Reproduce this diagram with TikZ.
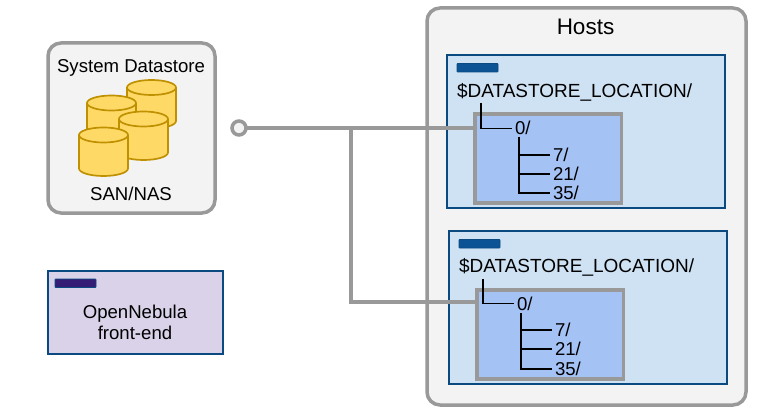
\documentclass[tikz,border=0pt]{standalone}
\usepackage{fontspec}
\setmainfont{Liberation Sans}
\definecolor{graybd}{HTML}{999999}
\definecolor{panel}{HTML}{F3F3F3}
\definecolor{hostfill}{HTML}{CFE2F3}
\definecolor{hostbd}{HTML}{0B4A80}
\definecolor{innerfill}{HTML}{A4C2F4}
\definecolor{fefill}{HTML}{D9D2E9}
\definecolor{febar}{HTML}{351C75}
\definecolor{hostbar}{HTML}{0B5394}
\definecolor{dbfill}{HTML}{FFD966}
\definecolor{dbbd}{HTML}{BF9000}
\tikzset{
  box/.style={inner sep=0pt,outer sep=0pt,anchor=north west},
  panelbox/.style={box,draw=graybd,fill=panel,line width=3.5pt,rounded corners=13pt},
  hostbox/.style={box,draw=hostbd,fill=hostfill,line width=1.5pt},
  febox/.style={box,draw=hostbd,fill=fefill,line width=1.5pt},
  innerbox/.style={box,draw=graybd,fill=innerfill,line width=3.5pt},
  hostbarbox/.style={box,draw=hostbd,fill=hostbar,line width=.8pt,rounded corners=.8pt},
  febarbox/.style={box,draw=hostbd,fill=febar,line width=.8pt,rounded corners=.8pt},
  txt/.style={inner sep=0pt,outer sep=0pt,anchor=base west,font=\fontsize{18.6}{22}\selectfont},
  loctxt/.style={txt,font=\fontsize{19}{22}\selectfont},
  ctxt/.style={txt,anchor=base},
  wire/.style={draw=graybd,line width=3.5pt},
  tree/.style={draw=black,line width=1.6pt},
  hub/.style={circle,draw=graybd,fill=panel,line width=3.5pt,minimum size=14pt,inner sep=0pt,outer sep=0pt},
  dbstyle/.style={draw=dbbd,fill=dbfill,line width=1.7pt}
}
\newcommand{\dbcyl}[2]{%
  \draw[dbstyle] (#1,#2+7.5) -- (#1,#2+41) arc[start angle=180,end angle=0,x radius=24.5,y radius=7.5] -- (#1+49,#2+7.5);
  \draw[dbstyle] (#1+24.5,#2+7.5) ellipse[x radius=24.5,y radius=7.5];
}
\begin{document}
\begin{tikzpicture}[x=1pt,y=-1pt]
\useasboundingbox (0,0) rectangle (757,414);
% Hosts panel
\node[panelbox,minimum width=319pt,minimum height=397pt] (hosts) at (427,8) {};
\node[ctxt,font=\fontsize{22.5}{26}\selectfont] (hoststitle) at (585.5,35) {Hosts};
% System datastore panel
\node[panelbox,minimum width=167pt,minimum height=170pt] (sys) at (48,43) {};
\node[ctxt] (systitle) at (131,72.5) {System Datastore};
\node[ctxt] (san) at (131,200.5) {SAN/NAS};
\dbcyl{127}{80}
\dbcyl{87}{95.5}
\dbcyl{119}{111.5}
\dbcyl{79}{127.5}
% Front-end
\node[febox,minimum width=175pt,minimum height=83pt] (fe) at (48,271) {};
\node[febarbox,minimum width=41pt,minimum height=8.5pt] (febar) at (55,279) {};
\node[ctxt] (fe1) at (135,318) {OpenNebula};
\node[ctxt] (fe2) at (135,339) {front-end};
% Host 1
\node[hostbox,minimum width=278pt,minimum height=153pt] (h1) at (447,55) {};
\node[hostbarbox,minimum width=41pt,minimum height=8.5pt] (h1bar) at (457,63.5) {};
\node[loctxt] (h1loc) at (457,98) {\$DATASTORE\_LOCATION/};
\node[innerbox,minimum width=146.5pt,minimum height=89pt] (h1in) at (475,114) {};
\node[txt] (h1zero) at (515,135) {0/};
\node[txt] (h1a) at (553,161.5) {7/};
\node[txt] (h1b) at (553,180.5) {21/};
\node[txt] (h1c) at (553,199.5) {35/};
\coordinate (h1t) at (481,103);
\coordinate (h1v) at (519,137);
\draw[tree] (h1t) |- ([xshift=-3pt]h1zero.west);
\draw[tree] (h1v) |- ([xshift=-3pt]h1a.west);
\draw[tree] (h1v) |- ([xshift=-3pt]h1b.west);
\draw[tree] (h1v) |- ([xshift=-3pt]h1c.west);
% Host 2
\node[hostbox,minimum width=278pt,minimum height=153pt] (h2) at (449,231) {};
\node[hostbarbox,minimum width=41pt,minimum height=8.5pt] (h2bar) at (459,239.5) {};
\node[loctxt] (h2loc) at (459,272) {\$DATASTORE\_LOCATION/};
\node[innerbox,minimum width=146.5pt,minimum height=89pt] (h2in) at (477,290) {};
\node[txt] (h2zero) at (517,310) {0/};
\node[txt] (h2a) at (555,336.5) {7/};
\node[txt] (h2b) at (555,355.5) {21/};
\node[txt] (h2c) at (555,375.5) {35/};
\coordinate (h2t) at (483,279);
\coordinate (h2v) at (521,313);
\draw[tree] (h2t) |- ([xshift=-3pt]h2zero.west);
\draw[tree] (h2v) |- ([xshift=-3pt]h2a.west);
\draw[tree] (h2v) |- ([xshift=-3pt]h2b.west);
\draw[tree] (h2v) |- ([xshift=-3pt]h2c.west);
% Connectors
\node[hub] (hub) at (239,128) {};
\coordinate (split) at (351,128);
\draw[wire] (hub.east) -- (h1in.west |- hub);
\draw[wire] (split) |- (h2in.west |- 0,302);
\end{tikzpicture}
\end{document}
